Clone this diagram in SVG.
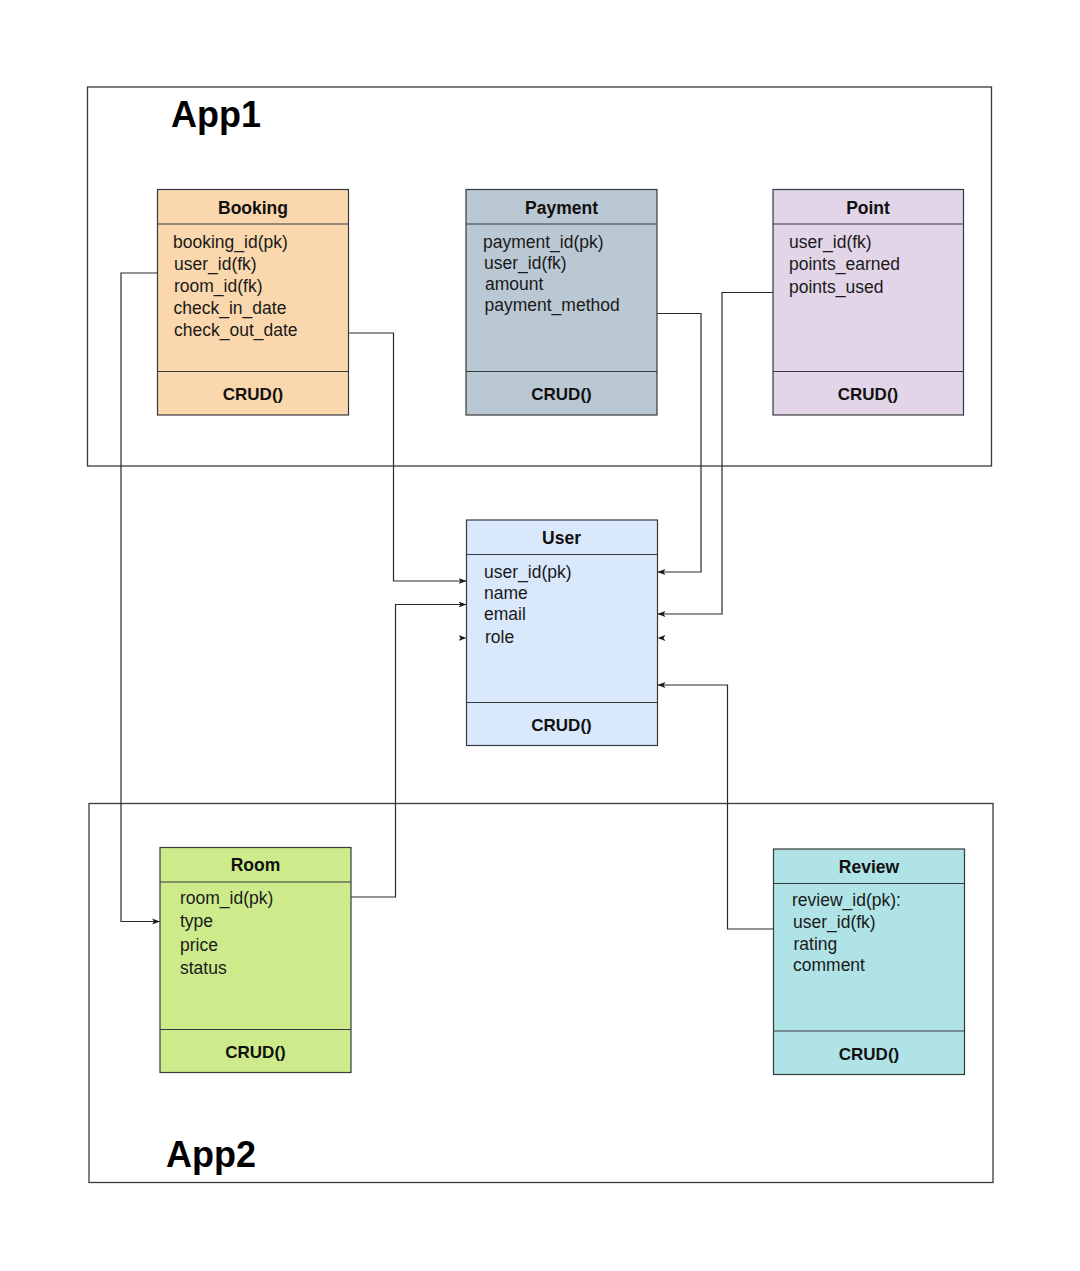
<svg xmlns="http://www.w3.org/2000/svg" width="1080" height="1271" viewBox="0 0 1080 1271">
<defs>
<style>
.cont{fill:none;stroke:#3a3a3a;stroke-width:1.3}
.box{stroke:#36393d;stroke-width:1.2}
.div{stroke:#36393d;stroke-width:1.2;fill:none}
.title{font-family:"Liberation Sans",Arial,sans-serif;font-weight:bold;font-size:17.5px;fill:#111;text-anchor:middle}
.attr{font-family:"Liberation Sans",Arial,sans-serif;font-size:17.5px;fill:#1a1a1a}
.crud{font-family:"Liberation Sans",Arial,sans-serif;font-weight:bold;font-size:17px;fill:#111;text-anchor:middle}
.app{font-family:"Liberation Sans",Arial,sans-serif;font-weight:bold;font-size:36px;fill:#000}
.conn{fill:none;stroke:#2a2a2a;stroke-width:1.2}
</style>
<marker id="arr" markerWidth="9" markerHeight="7" refX="8" refY="3.5" orient="auto" markerUnits="userSpaceOnUse">
<path d="M0,0.5 L8,3.5 L0,6.5 L2,3.5 Z" fill="#1a1a1a"/>
</marker>
</defs>
<rect width="1080" height="1271" fill="#ffffff"/>

<g id="app1">
<rect class="cont" x="87.5" y="87" width="904" height="379"/>
<text class="app" x="171" y="127">App1</text>
</g>
<g id="app2">
<rect class="cont" x="89" y="803.5" width="904" height="379"/>
<text class="app" x="166" y="1167">App2</text>
</g>

<g id="connectors">
<path class="conn" d="M157.5,273 H121 V921.5 H160" marker-end="url(#arr)"/>
<path class="conn" d="M348.5,333 H393.5 V581 H466.5" marker-end="url(#arr)"/>
<path class="conn" d="M351,897 H395.5 V604.5 H466.5" marker-end="url(#arr)"/>
<path d="M456,638 L466.5,638" stroke="none" fill="none" marker-end="url(#arr)"/>
<path class="conn" d="M657,313.5 H701 V572 H657.5" marker-end="url(#arr)"/>
<path class="conn" d="M773,292.5 H722 V614 H657.5" marker-end="url(#arr)"/>
<path d="M668,638 L657.5,638" stroke="none" fill="none" marker-end="url(#arr)"/>
<path class="conn" d="M773.5,929 H727.5 V685 H657.5" marker-end="url(#arr)"/>
</g>

<g id="booking">
<rect class="box" x="157.5" y="189.5" width="191" height="225.5" fill="#fad7ac"/>
<path class="div" d="M157.5,224 H348.5 M157.5,371.5 H348.5"/>
<text class="title" x="253" y="213.5">Booking</text>
<text class="attr" x="173" y="247.5">booking_id(pk)</text>
<text class="attr" x="174" y="269.5">user_id(fk)</text>
<text class="attr" x="174" y="291.5">room_id(fk)</text>
<text class="attr" x="173.5" y="313.5">check_in_date</text>
<text class="attr" x="174" y="335.5">check_out_date</text>
<text class="crud" x="253" y="400">CRUD()</text>
</g>

<g id="payment">
<rect class="box" x="466" y="189.5" width="191" height="225.5" fill="#bac8d3"/>
<path class="div" d="M466,224 H657 M466,371.5 H657"/>
<text class="title" x="561.5" y="213.5">Payment</text>
<text class="attr" x="483" y="247.5">payment_id(pk)</text>
<text class="attr" x="484" y="269">user_id(fk)</text>
<text class="attr" x="485" y="290">amount</text>
<text class="attr" x="484.5" y="310.5">payment_method</text>
<text class="crud" x="561.5" y="400">CRUD()</text>
</g>

<g id="point">
<rect class="box" x="773" y="189.5" width="190.5" height="225.5" fill="#e1d5e7"/>
<path class="div" d="M773,224 H963.5 M773,371.5 H963.5"/>
<text class="title" x="868" y="213.5">Point</text>
<text class="attr" x="789" y="248">user_id(fk)</text>
<text class="attr" x="789" y="270">points_earned</text>
<text class="attr" x="789" y="292.5">points_used</text>
<text class="crud" x="868" y="400">CRUD()</text>
</g>

<g id="user">
<rect class="box" x="466.5" y="520" width="191" height="225.5" fill="#dae8fc"/>
<path class="div" d="M466.5,554.5 H657.5 M466.5,702.5 H657.5"/>
<text class="title" x="561.5" y="543.5">User</text>
<text class="attr" x="484" y="578">user_id(pk)</text>
<text class="attr" x="484" y="598.5">name</text>
<text class="attr" x="484" y="620">email</text>
<text class="attr" x="485" y="642.5">role</text>
<text class="crud" x="561.5" y="730.5">CRUD()</text>
</g>

<g id="room">
<rect class="box" x="160" y="847.5" width="191" height="225" fill="#cdeb8b"/>
<path class="div" d="M160,882 H351 M160,1029.5 H351"/>
<text class="title" x="255.5" y="871">Room</text>
<text class="attr" x="180" y="904">room_id(pk)</text>
<text class="attr" x="180" y="927">type</text>
<text class="attr" x="180" y="950.5">price</text>
<text class="attr" x="180" y="974">status</text>
<text class="crud" x="255.5" y="1057.5">CRUD()</text>
</g>

<g id="review">
<rect class="box" x="773.5" y="849" width="191" height="225.5" fill="#b0e3e6"/>
<path class="div" d="M773.5,883.5 H964.5 M773.5,1031 H964.5"/>
<text class="title" x="869" y="873">Review</text>
<text class="attr" x="792" y="906">review_id(pk):</text>
<text class="attr" x="793" y="927.5">user_id(fk)</text>
<text class="attr" x="793.5" y="949.5">rating</text>
<text class="attr" x="793" y="970.5">comment</text>
<text class="crud" x="869" y="1060">CRUD()</text>
</g>
</svg>
